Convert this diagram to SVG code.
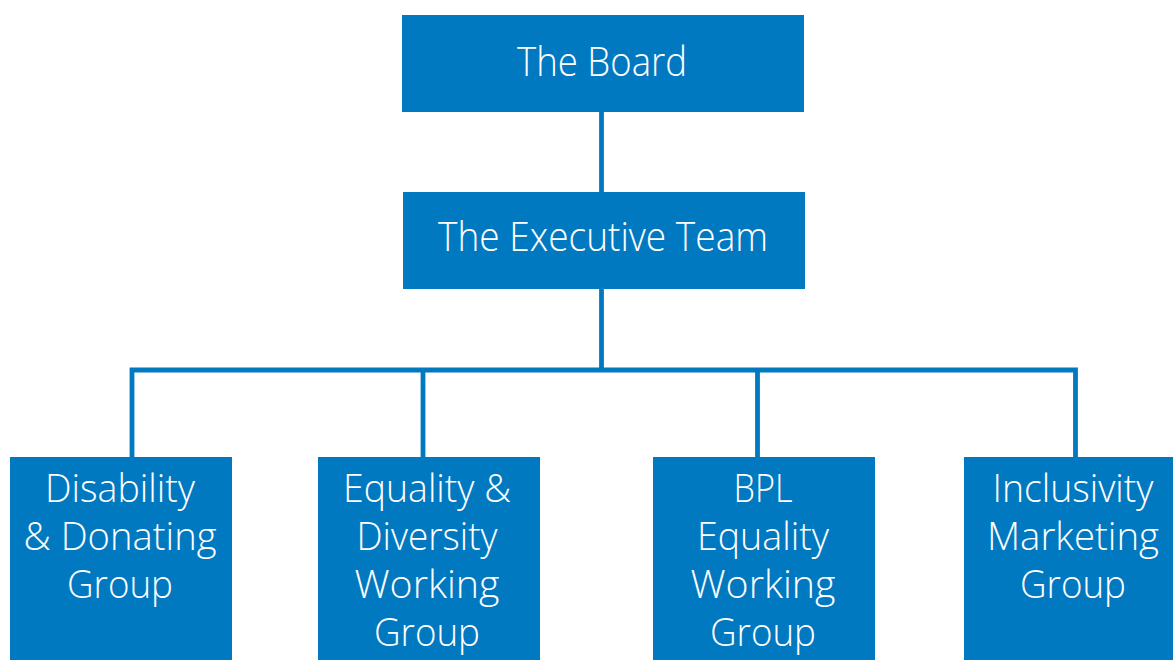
<svg xmlns="http://www.w3.org/2000/svg" width="1173" height="660" viewBox="0 0 1173 660">
  <style>
    .box { fill: #0179C1; }
    .wire { fill: none; stroke: #0179C1; stroke-width: 4.8; stroke-linecap: butt; }
    .label { fill: #ffffff; font-family: "Open Sans", "Noto Sans", sans-serif; font-weight: 300; text-anchor: middle; }
    .big { font-size: 41px; }
    .small { font-size: 38.5px; }
  </style>
  <rect width="1173" height="660" fill="#ffffff"/>

  <g id="connectors">
    <line class="wire" x1="601.5" y1="112" x2="601.5" y2="192"/>
    <line class="wire" x1="601.5" y1="289" x2="601.5" y2="370"/>
    <polyline class="wire" points="132,457 132,370 1075.5,370 1075.5,457"/>
    <line class="wire" x1="423" y1="370" x2="423" y2="457"/>
    <line class="wire" x1="757.5" y1="370" x2="757.5" y2="457"/>
  </g>

  <g id="board">
    <rect class="box" x="402" y="15" width="402" height="97"/>
    <text class="label big" x="602" y="76" textLength="170" lengthAdjust="spacingAndGlyphs">The Board</text>
  </g>

  <g id="executive-team">
    <rect class="box" x="403" y="192" width="402" height="97"/>
    <text class="label big" x="603" y="251" textLength="330" lengthAdjust="spacingAndGlyphs">The Executive Team</text>
  </g>

  <g id="disability-donating">
    <rect class="box" x="10" y="457" width="222" height="210"/>
    <text class="label small" x="120" y="502" textLength="150" lengthAdjust="spacingAndGlyphs">Disability</text>
    <text class="label small" x="120" y="550" textLength="193" lengthAdjust="spacingAndGlyphs">&amp; Donating</text>
    <text class="label small" x="120" y="598" textLength="106" lengthAdjust="spacingAndGlyphs">Group</text>
  </g>

  <g id="equality-diversity">
    <rect class="box" x="318" y="457" width="222" height="210"/>
    <text class="label small" x="427" y="502" textLength="168" lengthAdjust="spacingAndGlyphs">Equality &amp;</text>
    <text class="label small" x="427" y="550" textLength="141" lengthAdjust="spacingAndGlyphs">Diversity</text>
    <text class="label small" x="427" y="598" textLength="145" lengthAdjust="spacingAndGlyphs">Working</text>
    <text class="label small" x="427" y="646" textLength="106" lengthAdjust="spacingAndGlyphs">Group</text>
  </g>

  <g id="bpl-equality">
    <rect class="box" x="653" y="457" width="222" height="210"/>
    <text class="label small" x="763" y="502" textLength="59" lengthAdjust="spacingAndGlyphs">BPL</text>
    <text class="label small" x="763" y="550" textLength="132" lengthAdjust="spacingAndGlyphs">Equality</text>
    <text class="label small" x="763" y="598" textLength="145" lengthAdjust="spacingAndGlyphs">Working</text>
    <text class="label small" x="763" y="646" textLength="106" lengthAdjust="spacingAndGlyphs">Group</text>
  </g>

  <g id="inclusivity-marketing">
    <rect class="box" x="964" y="457" width="222" height="210"/>
    <text class="label small" x="1073" y="502" textLength="161" lengthAdjust="spacingAndGlyphs">Inclusivity</text>
    <text class="label small" x="1073" y="550" textLength="172" lengthAdjust="spacingAndGlyphs">Marketing</text>
    <text class="label small" x="1073" y="598" textLength="106" lengthAdjust="spacingAndGlyphs">Group</text>
  </g>
</svg>
